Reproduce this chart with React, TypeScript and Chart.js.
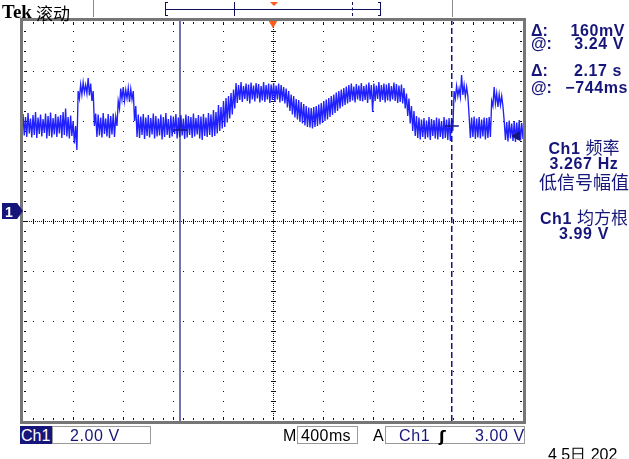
import React, { useEffect, useRef } from "react";
import { Chart, registerables } from "chart.js";

Chart.register(...registerables);

// ---- axes (seconds relative to trigger, volts) ----
const TIME_START = -2.0;
const TIME_END = 2.0;
const VOLT_MIN = -8.4;
const VOLT_MAX = 7.6;

// ---- Ch1 trace: alternating upper / lower noise excursions, volts ----
const traceVolts: number[] = [
  3.88, 3.02, 3.76, 2.96, 3.92, 3.10, 3.70, 2.94, 3.84, 3.04,
  3.96, 2.92, 3.74, 3.08, 3.86, 2.98, 3.68, 3.12, 3.90, 2.90,
  3.80, 3.00, 3.94, 2.94, 3.72, 3.06, 3.88, 2.96, 3.78, 3.10,
  3.84, 2.92, 3.96, 3.04, 4.10, 2.98, 3.76, 2.90, 3.82, 3.00,
  3.60, 2.70, 3.40, 2.44, 4.80, 4.50, 5.06, 4.66, 5.14, 4.74,
  5.04, 4.70, 5.32, 4.62, 5.10, 4.40, 4.80, 3.40, 3.90, 2.96,
  3.86, 3.02, 3.74, 2.94, 3.92, 3.08, 3.70, 2.98, 3.88, 2.92,
  3.80, 3.06, 3.90, 2.96, 3.76, 3.40, 4.40, 4.10, 4.90, 4.46,
  4.96, 4.40, 4.84, 4.50, 4.92, 4.36, 4.88, 4.46, 4.80, 3.60,
  4.20, 2.96, 3.86, 2.92, 3.78, 3.04, 3.88, 2.88, 3.74, 3.00,
  3.84, 2.94, 3.72, 3.06, 3.90, 2.90, 3.80, 2.98, 3.70, 3.02,
  3.86, 2.86, 3.76, 2.96, 3.92, 3.04, 3.68, 2.92, 3.82, 2.98,
  3.78, 3.08, 3.88, 2.90, 3.74, 2.96, 3.84, 3.02, 3.70, 2.88,
  3.86, 2.94, 3.80, 3.04, 3.76, 2.92, 3.90, 2.98, 3.72, 3.06,
  3.84, 2.90, 3.78, 2.84, 3.88, 3.00, 3.74, 2.96, 3.92, 3.04,
  3.86, 2.96, 4.04, 3.00, 3.96, 3.10, 4.24, 3.20, 4.16, 3.30,
  4.40, 3.36, 4.52, 3.54, 4.60, 3.70, 4.72, 3.86, 4.86, 4.10,
  5.12, 4.32, 5.04, 4.44, 5.16, 4.36, 5.00, 4.48, 5.10, 4.40,
  5.06, 4.30, 5.14, 4.46, 5.02, 4.38, 5.12, 4.50, 5.08, 4.34,
  5.00, 4.42, 5.16, 4.36, 5.04, 4.46, 5.10, 4.32, 5.06, 4.44,
  5.12, 4.38, 5.02, 4.46, 5.10, 4.34, 5.04, 4.40, 4.96, 4.30,
  4.90, 4.14, 4.80, 4.00, 4.66, 3.86, 4.60, 3.74, 4.48, 3.66,
  4.44, 3.56, 4.36, 3.50, 4.28, 3.42, 4.20, 3.36, 4.14, 3.34,
  4.12, 3.30, 4.16, 3.36, 4.20, 3.40, 4.26, 3.46, 4.32, 3.52,
  4.40, 3.60, 4.46, 3.66, 4.52, 3.76, 4.60, 3.84, 4.66, 3.92,
  4.74, 4.00, 4.80, 4.10, 4.86, 4.18, 4.92, 4.24, 4.98, 4.30,
  5.04, 4.36, 5.10, 4.42, 4.98, 4.34, 5.08, 4.46, 5.02, 4.40,
  5.12, 4.38, 5.00, 4.44, 5.06, 4.32, 5.14, 4.46, 5.04, 3.96,
  5.10, 4.40, 5.02, 4.48, 5.16, 4.36, 5.04, 4.44, 5.10, 4.34,
  5.06, 4.42, 5.12, 4.38, 5.00, 4.46, 5.14, 4.40, 5.08, 4.32,
  5.02, 4.36, 5.06, 4.30, 4.92, 4.10, 4.70, 3.80, 4.50, 3.50,
  4.20, 3.20, 4.00, 3.00, 3.80, 2.92, 3.74, 2.86, 3.66, 2.96,
  3.72, 2.88, 3.62, 2.94, 3.76, 2.84, 3.68, 3.00, 3.64, 2.90,
  3.74, 2.86, 3.70, 2.96, 3.60, 2.88, 3.76, 2.92, 3.66, 2.84,
  3.72, 2.80, 3.70, 3.20, 4.80, 4.50, 5.00, 4.60, 4.90, 4.56,
  5.44, 4.64, 5.04, 4.58, 4.96, 4.60, 3.80, 2.92, 3.74, 2.96,
  3.78, 2.88, 3.70, 2.94, 3.76, 2.90, 3.66, 2.98, 3.74, 2.86,
  3.72, 2.92, 3.76, 2.96, 4.40, 4.20, 4.96, 4.30, 4.70, 4.16,
  4.66, 4.24, 4.60, 4.18, 3.60, 2.84, 3.56, 2.78, 3.62, 2.90,
  3.50, 2.80, 3.60, 2.76, 3.54, 2.86, 3.64, 2.82, 3.52, 2.88,
];

// ---- cursors & markers ----
const cursorTimes = [-0.744, 1.43];
const cursorLevels = [3.24, 3.4];
const cursorMarkHalfWidth = 0.056;
const triggerLevelVolts = 3.0;
const triggerLevelMarkerTime = 1.952;
const triggerTime = 0;
const triggerMarkerVolts = 7.54;

// ---- text ----
const cursorLabels = ["Δ:", "@:", "Δ:", "@:"];
const cursorValues = ["160mV", "3.24 V", "2.17 s", "−744ms"];
const measurementLines: [string, string][] = [
  ["Ch1 ", "频率"],
  ["3.267 Hz", ""],
  ["", "低信号幅值"],
  ["Ch1 ", "均方根"],
  ["3.99 V", ""],
];
const bottomLabels = { channel: "Ch1", scale: "2.00 V", timeLabel: "M", timebase: "400ms", trigLabel: "A", trigSrc: "Ch1", trigSlope: "ʃ", trigLevel: "3.00 V" };
const dateText = "4 5日 202";

const TRACE = "#2020ff";
const NAVY = "#16167a";
const ORANGE = "#ff5a1a";

const graticule = {
  id: "graticule",
  beforeDatasetsDraw(chart: any) {
    const { ctx, chartArea: a } = chart;
    const L = Math.round(a.left), T = Math.round(a.top), R = Math.round(a.right), B = Math.round(a.bottom);
    const W = R - L, H = B - T;
    const cx = L + Math.round(W / 2), cy = T + Math.round(H / 2);
    ctx.save();
    ctx.fillStyle = "#111";
    for (let i = 1; i < 10; i++) {
      if (i === 5) continue;
      const x = L + Math.round((i * W) / 10);
      for (let y = T + 10; y < B; y += 10) ctx.fillRect(x, y, 1, 1);
    }
    for (let j = 1; j < 8; j++) {
      if (j === 4) continue;
      const y = T + Math.round((j * H) / 8);
      for (let x = L + 10; x < R; x += 10) ctx.fillRect(x, y, 1, 1);
    }
    for (let y = T; y < B; y += 2) ctx.fillRect(cx, y, 1, 1);
    for (let y = T + 10; y < B; y += 10) ctx.fillRect(cx - 2, y, 5, 1);
    for (let x = L; x < R; x += 2) ctx.fillRect(x, cy, 1, 1);
    for (let x = L + 10; x < R; x += 10) ctx.fillRect(x, cy - 2, 1, 5);
    for (let x = L + 10; x < R; x += 10) {
      const long = (x - L) % 50 === 0 ? 3 : 2;
      ctx.fillRect(x, T + 1, 1, long);
      ctx.fillRect(x, B - 1 - long, 1, long);
    }
    for (let y = T + 10; y < B; y += 10) {
      const long = (y - T) % 50 === 0 ? 3 : 2;
      ctx.fillRect(L + 1, y, long, 1);
      ctx.fillRect(R - 1 - long, y, long, 1);
    }
    ctx.restore();
  },
  afterDatasetsDraw(chart: any) {
    const { ctx, chartArea: a } = chart;
    ctx.save();
    ctx.strokeStyle = "#767676";
    ctx.lineWidth = 3;
    ctx.strokeRect(Math.round(a.left) - 1.5, Math.round(a.top) - 1.5, Math.round(a.right - a.left) + 3, Math.round(a.bottom - a.top) + 3);
    ctx.restore();
  },
};

const abs = (left: number, top: number, extra: React.CSSProperties = {}): React.CSSProperties => ({
  position: "absolute",
  left,
  top,
  whiteSpace: "pre",
  lineHeight: 1,
  ...extra,
});

const SANS = '"Liberation Sans", "DejaVu Sans", sans-serif';
const CJK = '"Noto Sans CJK SC", sans-serif';

export default function App() {
  const ref = useRef<HTMLCanvasElement>(null);

  useEffect(() => {
    const step = (TIME_END - TIME_START) / (traceVolts.length - 1);
    const trace = traceVolts.map((v, i) => ({ x: TIME_START + i * step, y: v }));
    const vLine = (t: number) => [
      { x: t, y: VOLT_MIN },
      { x: t, y: VOLT_MAX },
    ];
    const hMark = (t: number, v: number) => [
      { x: t - cursorMarkHalfWidth, y: v },
      { x: t + cursorMarkHalfWidth, y: v },
    ];
    const chart = new Chart(ref.current as HTMLCanvasElement, {
      type: "line",
      data: {
        datasets: [
          { data: trace, borderColor: TRACE, borderWidth: 1.35, pointRadius: 0, tension: 0, order: 10 } as any,
          { data: vLine(cursorTimes[0]), borderColor: NAVY, borderWidth: 1.2, pointRadius: 0, order: 1 },
          { data: vLine(cursorTimes[1]), borderColor: NAVY, borderWidth: 1.5, borderDash: [6, 3], pointRadius: 0, order: 1 },
          { data: hMark(cursorTimes[0], cursorLevels[0]), borderColor: NAVY, borderWidth: 1.5, pointRadius: 0, order: 1 },
          { data: hMark(cursorTimes[1], cursorLevels[1]), borderColor: NAVY, borderWidth: 1.5, pointRadius: 0, order: 1 },
          {
            data: [{ x: triggerLevelMarkerTime, y: triggerLevelVolts }],
            showLine: false,
            pointStyle: "triangle",
            pointRotation: -90,
            pointRadius: 5,
            backgroundColor: NAVY,
            borderColor: NAVY,
            order: 0,
          },
          {
            data: [{ x: triggerTime, y: triggerMarkerVolts }],
            showLine: false,
            pointStyle: "triangle",
            pointRotation: 180,
            pointRadius: 5,
            backgroundColor: ORANGE,
            borderColor: ORANGE,
            clip: false,
            order: 0,
          } as any,
        ],
      },
      options: {
        animation: false,
        responsive: false,
        devicePixelRatio: 1,
        layout: { padding: { left: 23, top: 21, right: 106, bottom: 38 } },
        scales: {
          x: { type: "linear", min: TIME_START, max: TIME_END, display: false },
          y: { type: "linear", min: VOLT_MIN, max: VOLT_MAX, display: false },
        },
        plugins: { legend: { display: false }, tooltip: { enabled: false } },
        events: [],
      },
      plugins: [graticule],
    });
    return () => chart.destroy();
  }, []);

  const boxStyle: React.CSSProperties = { border: "1px solid #9a9a9a", boxSizing: "border-box", height: 18, background: "#fff" };
  const readTops = [22, 35, 62, 79];
  const readRights = [4, 5, 7, 1];
  const measBaselines = [157, 172, 189, 227, 242];

  return (
    <div style={{ position: "fixed", left: 0, top: 0, width: 629, height: 459, overflow: "hidden", background: "#fff" }}>
      <canvas ref={ref} width={629} height={459} style={{ position: "absolute", left: 0, top: 0, width: 629, height: 459 }} />

      {/* top status bar */}
      <div style={abs(2, 1, { font: 'bold 19px "Liberation Serif", serif', color: "#000" })}>Tek</div>
      <div style={abs(36, 0, { font: `17px ${CJK}`, color: "#000" })}>滚动</div>
      <div style={abs(93, 0, { width: 1, height: 17, background: "#8a8a8a" })} />
      <div style={abs(452, 0, { width: 1, height: 17, background: "#8a8a8a" })} />
      <div style={abs(165, 2, { width: 1, height: 14, background: "#10105a" })} />
      <div style={abs(165, 2, { width: 3, height: 1, background: "#10105a" })} />
      <div style={abs(165, 15, { width: 3, height: 1, background: "#10105a" })} />
      <div style={abs(380, 2, { width: 1, height: 14, background: "#10105a" })} />
      <div style={abs(378, 2, { width: 3, height: 1, background: "#10105a" })} />
      <div style={abs(378, 15, { width: 3, height: 1, background: "#10105a" })} />
      <div style={abs(165, 9, { width: 216, height: 1, background: "#10105a" })} />
      <div style={abs(234, 2, { width: 1, height: 14, background: "#10105a" })} />
      <div style={abs(352, 2, { width: 0, height: 14, borderLeft: "1px dashed #10105a" })} />
      <div style={abs(270, 2, { width: 0, height: 0, borderLeft: "4px solid transparent", borderRight: "4px solid transparent", borderTop: "4px solid " + ORANGE })} />

      {/* channel ground marker */}
      <div
        style={abs(2, 203, {
          width: 21,
          height: 16,
          background: NAVY,
          clipPath: "polygon(0 0, 72% 0, 100% 50%, 72% 100%, 0 100%)",
        })}
      />
      <div style={abs(5, 204, { font: `bold 14px ${SANS}`, color: "#fff" })}>1</div>

      {/* cursor readouts */}
      {cursorLabels.map((lab, i) => (
        <div key={"l" + i} style={abs(531, readTops[i], { font: `bold 16px ${SANS}`, color: NAVY })}>
          {lab}
        </div>
      ))}
      {cursorValues.map((val, i) => (
        <div
          key={"v" + i}
          style={{ ...abs(0, readTops[i], { font: `bold 16px ${SANS}`, color: NAVY, letterSpacing: 0.6 }), left: "auto", right: readRights[i] }}
        >
          {val}
        </div>
      ))}

      {/* measurements: each line is a flex row aligned on a baseline */}
      {measurementLines.map(([latin, cjk], i) => (
        <div
          key={"m" + i}
          style={{
            position: "absolute",
            left: 534,
            width: 100,
            top: measBaselines[i] - 30,
            height: 30,
            display: "flex",
            justifyContent: "center",
            alignItems: "flex-end",
            color: NAVY,
            whiteSpace: "pre",
          }}
        >
          <div style={{ display: "flex", alignItems: "baseline" }}>
            {latin && (
              <span style={{ font: `bold 16px ${SANS}`, letterSpacing: 0.6, lineHeight: "16px", display: "inline-block", height: 16 }}>{latin}</span>
            )}
            {cjk && (
              <span style={{ font: `${cjk.length > 3 ? 18 : 17}px ${CJK}`, lineHeight: "16px", display: "inline-block" }}>{cjk}</span>
            )}
          </div>
        </div>
      ))}

      {/* bottom bar */}
      <div style={abs(20, 426, { width: 32, height: 18, background: NAVY, color: "#fff", font: `16px ${SANS}`, paddingLeft: 1, paddingTop: 1, boxSizing: "border-box" })}>
        {bottomLabels.channel}
      </div>
      <div style={abs(52, 426, { ...boxStyle, width: 99 })} />
      <div style={abs(70, 427, { font: `16px ${SANS}`, color: NAVY, letterSpacing: 0.6 })}>{bottomLabels.scale}</div>
      <div style={abs(283, 427, { font: `16px ${SANS}`, color: "#000" })}>{bottomLabels.timeLabel}</div>
      <div style={abs(297, 426, { ...boxStyle, width: 61 })} />
      <div style={abs(301, 427, { font: `16px ${SANS}`, color: "#000", letterSpacing: 0.4 })}>{bottomLabels.timebase}</div>
      <div style={abs(373, 427, { font: `16px ${SANS}`, color: "#000" })}>{bottomLabels.trigLabel}</div>
      <div style={abs(385, 426, { ...boxStyle, width: 140 })} />
      <div style={abs(399, 427, { font: `16px ${SANS}`, color: NAVY, letterSpacing: 0.6 })}>{bottomLabels.trigSrc}</div>
      <div style={abs(439, 427, { font: `bold 16px "DejaVu Sans", sans-serif`, color: "#000" })}>{bottomLabels.trigSlope}</div>
      <div style={abs(475, 427, { font: `16px ${SANS}`, color: NAVY, letterSpacing: 0.6 })}>{bottomLabels.trigLevel}</div>
      <div style={abs(548, 445, { font: `16px ${SANS}`, color: "#000" })}>{dateText}</div>
    </div>
  );
}
